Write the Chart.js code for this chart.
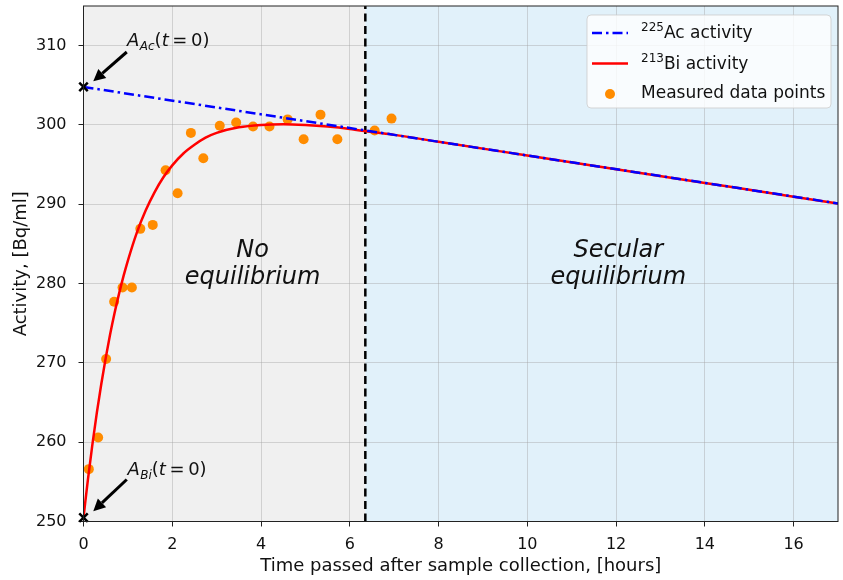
<!DOCTYPE html>
<html>
<head>
<meta charset="utf-8">
<title>225Ac and 213Bi activity</title>
<script src="https://cdn.jsdelivr.net/npm/chart.js@4.4.0/dist/chart.umd.min.js"></script>
<style>
  html, body { margin: 0; padding: 0; background: #fff; }
</style>
</head>
<body>
<canvas id="chart" width="843" height="580"></canvas>
<script>
'use strict';

// values
const acTime = [0, 17];
const acActivity = [304.8, 290.1];

const biTime = [0, 0.1, 0.2, 0.3, 0.4, 0.5, 0.6, 0.7, 0.8, 0.9, 1.0, 1.2, 1.4, 1.6, 1.8, 2.0,
  2.25, 2.5, 2.75, 3.0, 3.5, 4.0, 4.5, 5.0, 5.5, 6.0, 6.5, 7, 8, 10, 12, 14, 16, 17];
const biActivity = [250.5, 255.3, 259.7, 263.7, 267.3, 270.6, 273.6, 276.3, 278.7, 280.9, 282.9,
  286.4, 289.2, 291.5, 293.4, 294.9, 296.4, 297.5, 298.4, 299.0, 299.7, 300.0, 300.1, 300.0,
  299.8, 299.5, 299.1, 298.75, 297.88, 296.15, 294.42, 292.69, 290.96, 290.1];

const measTime = [0.12, 0.33, 0.51, 0.69, 0.88, 1.09, 1.28, 1.56, 1.85, 2.12, 2.42, 2.70,
  3.07, 3.44, 3.82, 4.19, 4.60, 4.96, 5.34, 5.72, 6.56, 6.94];
const measActivity = [256.6, 260.6, 270.5, 277.7, 279.5, 279.5, 286.9, 287.4, 294.3, 291.4,
  299.0, 295.8, 299.9, 300.3, 299.8, 299.8, 300.7, 298.2, 301.3, 298.2, 299.3, 300.8];

const startTime = [0, 0];
const startActivity = [304.8, 250.5];

const equilibriumTime = 6.35;

const xTicks = [0, 2, 4, 6, 8, 10, 12, 14, 16];
const yTicks = [250, 260, 270, 280, 290, 300, 310];

const legendSup = ['225', '213', ''];
const legendText = ['Ac activity', 'Bi activity', 'Measured data points'];

const FONT = '"DejaVu Sans", sans-serif';
const acDash = [10, 4, 2.5, 4];

function pairs(xs, ys) {
  return xs.map((x, i) => ({ x: x, y: ys[i] }));
}

function roundRect(ctx, x, y, w, h, r) {
  ctx.beginPath();
  ctx.moveTo(x + r, y);
  ctx.lineTo(x + w - r, y);
  ctx.arcTo(x + w, y, x + w, y + r, r);
  ctx.lineTo(x + w, y + h - r);
  ctx.arcTo(x + w, y + h, x + w - r, y + h, r);
  ctx.lineTo(x + r, y + h);
  ctx.arcTo(x, y + h, x, y + h - r, r);
  ctx.lineTo(x, y + r);
  ctx.arcTo(x, y, x + r, y, r);
  ctx.closePath();
}

function arrow(ctx, x1, y1, x2, y2) {
  const ang = Math.atan2(y2 - y1, x2 - x1);
  const hl = 12, hw = 6;
  const bx = x2 - hl * Math.cos(ang), by = y2 - hl * Math.sin(ang);
  ctx.save();
  ctx.strokeStyle = '#000';
  ctx.fillStyle = '#000';
  ctx.lineWidth = 3;
  ctx.beginPath();
  ctx.moveTo(x1, y1);
  ctx.lineTo(bx, by);
  ctx.stroke();
  ctx.beginPath();
  ctx.moveTo(x2, y2);
  ctx.lineTo(bx + hw * Math.sin(ang), by - hw * Math.cos(ang));
  ctx.lineTo(bx - hw * Math.sin(ang), by + hw * Math.cos(ang));
  ctx.closePath();
  ctx.fill();
  ctx.restore();
}

// A_sub(t = 0)
function mathLabel(ctx, x, y, sub) {
  const parts = [
    ['A', 'italic 18px ' + FONT, 0],
    [sub, 'italic 12px ' + FONT, 4],
    ['(', '18px ' + FONT, 0],
    ['t', 'italic 18px ' + FONT, 0],
    ['\u2009=\u20090)', '18px ' + FONT, 0]
  ];
  ctx.save();
  ctx.fillStyle = '#111';
  ctx.textBaseline = 'alphabetic';
  ctx.textAlign = 'left';
  let cx = x;
  parts.forEach(p => {
    ctx.font = p[1];
    ctx.fillText(p[0], cx, y + p[2]);
    cx += ctx.measureText(p[0]).width + (p[0] === 'A' ? 0.5 : 0);
  });
  ctx.restore();
}

const decorPlugin = {
  id: 'decor',
  beforeDraw(chart) {
    const { ctx, chartArea: ca, scales } = chart;
    const xs = scales.x.getPixelForValue(equilibriumTime);
    ctx.save();
    ctx.fillStyle = '#f0f0f0';
    ctx.fillRect(ca.left, ca.top, xs - ca.left, ca.bottom - ca.top);
    ctx.fillStyle = '#e1f1fa';
    ctx.fillRect(xs, ca.top, ca.right - xs, ca.bottom - ca.top);
    ctx.restore();
  },
  beforeDatasetsDraw(chart) {
    const { ctx, chartArea: ca, scales } = chart;
    const xs = scales.x.getPixelForValue(equilibriumTime);
    ctx.save();
    ctx.strokeStyle = '#000';
    ctx.lineWidth = 2.5;
    ctx.setLineDash([8, 4.5]);
    ctx.beginPath();
    ctx.moveTo(xs, ca.bottom);
    ctx.lineTo(xs, ca.top);
    ctx.stroke();
    ctx.restore();
  },
  afterDatasetsDraw(chart) {
    const { ctx, chartArea: ca, scales } = chart;
    const px = v => scales.x.getPixelForValue(v);
    const py = v => scales.y.getPixelForValue(v);

    // region captions
    ctx.save();
    ctx.fillStyle = '#111';
    ctx.font = 'italic 24px ' + FONT;
    ctx.textAlign = 'center';
    ctx.textBaseline = 'alphabetic';
    ctx.fillText('No', px(3.81), py(283.3));
    ctx.fillText('equilibrium', px(3.81), py(280.0));
    ctx.fillText('Secular', px(12.05), py(283.3));
    ctx.fillText('equilibrium', px(12.05), py(280.0));
    ctx.restore();

    // annotations
    mathLabel(ctx, px(0.98), py(309.9), 'Ac');
    arrow(ctx, px(0.975), py(309.2), px(0.22), py(305.5));
    mathLabel(ctx, px(0.99), py(255.9), 'Bi');
    arrow(ctx, px(0.975), py(255.3), px(0.22), py(251.3));

    // legend
    const lw = 244, lh = 93;
    const lx = ca.right - 7 - lw, ly = ca.top + 9;
    ctx.save();
    roundRect(ctx, lx, ly, lw, lh, 4);
    ctx.fillStyle = 'rgba(255,255,255,0.8)';
    ctx.fill();
    ctx.strokeStyle = 'rgba(204,204,204,0.8)';
    ctx.lineWidth = 1;
    ctx.stroke();
    const rows = [ly + 18, ly + 48.5, ly + 78];
    const sx1 = lx + 5, sx2 = lx + 41, tx = lx + 54;
    ctx.lineWidth = 2.5;
    ctx.strokeStyle = '#0000ff';
    ctx.setLineDash(acDash);
    ctx.beginPath(); ctx.moveTo(sx1, rows[0]); ctx.lineTo(sx2, rows[0]); ctx.stroke();
    ctx.setLineDash([]);
    ctx.strokeStyle = '#ff0000';
    ctx.beginPath(); ctx.moveTo(sx1, rows[1]); ctx.lineTo(sx2, rows[1]); ctx.stroke();
    ctx.fillStyle = '#ff8c00';
    ctx.beginPath(); ctx.arc((sx1 + sx2) / 2, rows[2] + 1, 5, 0, Math.PI * 2); ctx.fill();
    ctx.fillStyle = '#111';
    ctx.textBaseline = 'middle';
    ctx.textAlign = 'left';
    rows.forEach((ry, i) => {
      let cx = tx;
      if (legendSup[i]) {
        ctx.font = '12px ' + FONT;
        ctx.fillText(legendSup[i], cx, ry - 5);
        cx += ctx.measureText(legendSup[i]).width;
      }
      ctx.font = '17px ' + FONT;
      ctx.fillText(legendText[i], cx, ry + 1);
    });
    ctx.restore();

    // axes frame
    ctx.save();
    ctx.strokeStyle = '#222';
    ctx.lineWidth = 1;
    ctx.strokeRect(ca.left, ca.top, ca.right - ca.left, ca.bottom - ca.top);
    ctx.restore();
  }
};

const tickFont = { family: FONT, size: 16 };
const titleFont = { family: FONT, size: 18 };
const gridOpts = {
  color: 'rgba(160,160,160,0.4)',
  lineWidth: 1,
  tickColor: '#222',
  tickLength: 5,
  drawTicks: true
};

new Chart(document.getElementById('chart'), {
  type: 'scatter',
  data: {
    datasets: [
      {
        label: '225Ac activity',
        data: pairs(acTime, acActivity),
        showLine: true,
        borderColor: '#0000ff',
        borderWidth: 2.5,
        borderDash: acDash,
        pointRadius: 0,
        order: 1
      },
      {
        label: '213Bi activity',
        data: pairs(biTime, biActivity),
        showLine: true,
        borderColor: '#ff0000',
        borderWidth: 2.5,
        cubicInterpolationMode: 'monotone',
        pointRadius: 0,
        order: 2
      },
      {
        label: 'Measured data points',
        data: pairs(measTime, measActivity),
        backgroundColor: '#ff8c00',
        borderWidth: 0,
        pointRadius: 5,
        order: 3
      },
      {
        label: 'start values',
        data: pairs(startTime, startActivity),
        pointStyle: 'crossRot',
        pointRadius: 6,
        borderColor: '#000',
        borderWidth: 2.5,
        clip: false,
        order: 0
      }
    ]
  },
  options: {
    responsive: false,
    animation: false,
    events: [],
    layout: { autoPadding: false, padding: { top: 6, right: 5, left: 0, bottom: 0 } },
    plugins: {
      legend: { display: false },
      tooltip: { enabled: false }
    },
    scales: {
      x: {
        type: 'linear',
        min: 0,
        max: 17,
        grid: gridOpts,
        border: { display: false },
        afterBuildTicks: s => { s.ticks = xTicks.map(v => ({ value: v })); },
        afterFit: s => { s.height = 58.5; s.paddingLeft = 0; s.paddingRight = 0; },
        ticks: { font: tickFont, color: '#111', padding: 9, maxRotation: 0, autoSkip: false },
        title: {
          display: true,
          text: 'Time passed after sample collection, [hours]',
          font: titleFont,
          color: '#111',
          padding: { top: 0, bottom: 3 }
        }
      },
      y: {
        type: 'linear',
        min: 250,
        max: 315,
        grid: gridOpts,
        border: { display: false },
        afterBuildTicks: s => { s.ticks = yTicks.map(v => ({ value: v })); },
        afterFit: s => { s.width = 83.5; s.paddingTop = 0; s.paddingBottom = 0; },
        ticks: { font: tickFont, color: '#111', padding: 12 },
        title: {
          display: true,
          text: 'Activity, [Bq/ml]',
          font: titleFont,
          color: '#111',
          padding: { top: 11, bottom: 0 }
        }
      }
    }
  },
  plugins: [decorPlugin]
});
</script>
</body>
</html>
